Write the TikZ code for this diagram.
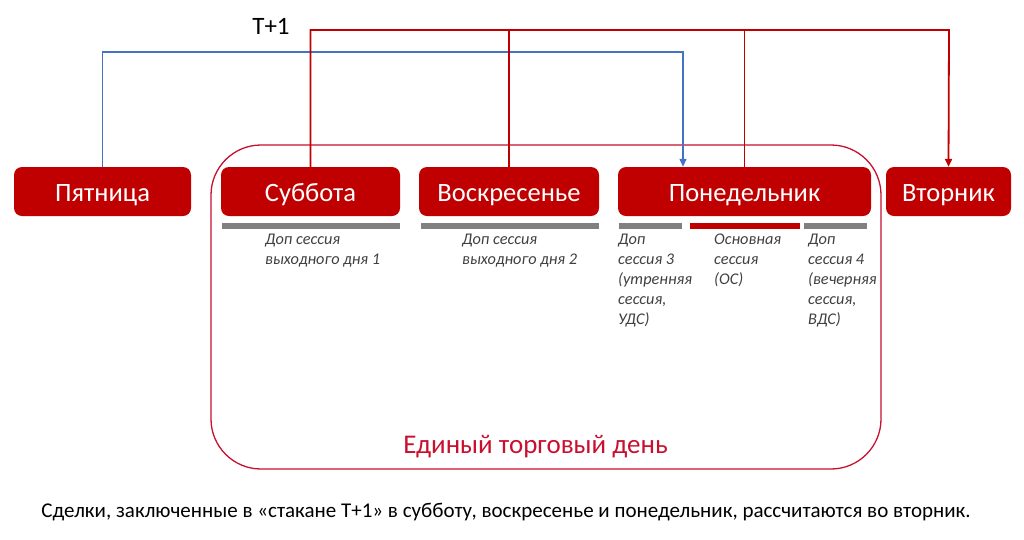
\documentclass[tikz,border=0pt]{standalone}
\usepackage{fontspec}
\setmainfont{Carlito}
\usetikzlibrary{arrows.meta}
\definecolor{dred}{HTML}{C00000}
\definecolor{lred}{HTML}{C8102E}
\definecolor{bline}{HTML}{4472C4}
\definecolor{gbar}{HTML}{808080}
\definecolor{gtext}{HTML}{404040}
\tikzset{
  daybox/.style={fill=dred, rounded corners=8pt, text=white, minimum height=49pt,
    inner sep=0pt, text height=19pt, text depth=0pt, font=\fontsize{26.5}{30}\selectfont},
  sess/.style={anchor=base west, inner sep=0pt, align=left, text=gtext,
    font=\fontsize{16.3}{20}\selectfont\itshape},
  redline/.style={draw=dred, line width=1.8pt},
  blueline/.style={draw=bline, line width=1.3pt},
  tip/.style={-{Triangle[width=7pt,length=8pt]}}
}
\begin{document}
\begin{tikzpicture}[x=1pt,y=-1pt]
\useasboundingbox (0,0) rectangle (1024,539);
% big frame
\draw[lred, line width=1.3pt, rounded corners=50pt] (211,145) rectangle (881,469);
% day boxes
\node[daybox, minimum width=177pt] (pt) at (102.5,191.5) {Пятница};
\node[daybox, minimum width=179pt] (sb) at (310.5,191.5) {Суббота};
\node[daybox, minimum width=180pt] (vs) at (509,191.5) {Воскресенье};
\node[daybox, minimum width=253pt] (pn) at (744.5,191.5) {Понедельник};
\node[daybox, minimum width=125pt] (vt) at (948.5,191.5) {Вторник};
% session bars
\fill[gbar] (222,223) rectangle (400,229);
\fill[gbar] (421,223) rectangle (599,229);
\fill[gbar] (619,223) rectangle (682,229);
\fill[dred] (690,223) rectangle (800,229);
\fill[gbar] (804,223) rectangle (867,229);
% session labels (anchored at the baseline of their last line)
\node[sess] (s1) at (265,264) {Доп сессия\\выходного дня 1};
\node[sess] (s2) at (462,264) {Доп сессия\\выходного дня 2};
\node[sess] (s3) at (618,324) {Доп\\сессия 3\\(утренняя\\сессия,\\УДС)};
\node[sess] (s4) at (714,284) {Основная\\сессия\\(ОС)};
\node[sess] (s5) at (808,324) {Доп\\сессия 4\\(вечерняя\\сессия,\\ВДС)};
% connectors
\coordinate (bt) at (683,52);
\coordinate (rt) at (949,30);
\draw[blueline, tip] (pt.north) |- (bt) -- (bt |- pn.north);
\draw[redline, tip] (sb.north) |- (rt) -- (vt.north);
\draw[redline] (vs.north) -- (vs.north |- rt);
\draw[redline] (pn.north) -- (pn.north |- rt);
% texts
\node[anchor=base, inner sep=0pt, font=\fontsize{25}{28}\selectfont] (tp) at (271,34) {T+1};
\node[anchor=base, inner sep=0pt, text=lred, font=\fontsize{27}{30}\selectfont] (etd) at (535.5,453) {Единый торговый день};
\node[anchor=base, inner sep=0pt, font=\fontsize{21}{24}\selectfont] (note) at (506,517) {Сделки, заключенные в «стакане Т+1» в субботу, воскресенье и понедельник, рассчитаются во вторник.};
\end{tikzpicture}
\end{document}
